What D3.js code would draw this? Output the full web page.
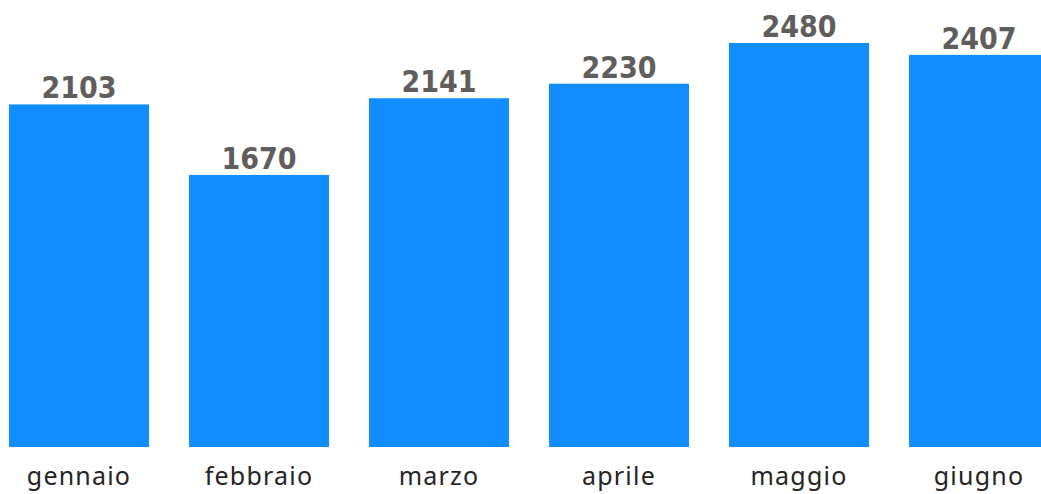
<!DOCTYPE html>
<html>
<head>
<meta charset="utf-8">
<script src="https://cdn.jsdelivr.net/npm/d3@7"></script>
<style>
  body { margin: 0; background: #fff; overflow: hidden; }
  svg { display: block; }
</style>
</head>
<body>
<svg></svg>
<script>
var months = ["gennaio", "febbraio", "marzo", "aprile", "maggio", "giugno"];
var values = [2103, 1670, 2141, 2230, 2480, 2407];

var width = 1041;
var height = 494;
var baseY = 447;

var svg = d3.select("svg")
  .attr("width", width)
  .attr("height", height);

// band: step 180, bar 140
var xScale = d3.scaleBand()
  .domain(months)
  .range([-11, 1069])
  .paddingInner(40 / 180)
  .paddingOuter(20 / 180);

var yScale = d3.scaleLinear()
  .domain([0, 2480])
  .range([baseY, 43]);

var data = months.map(function(m, i){ return {month: m, value: values[i]}; });

svg.selectAll("rect.bar")
  .data(data)
  .enter().append("rect")
  .attr("class", "bar")
  .attr("x", d => xScale(d.month))
  .attr("y", d => yScale(d.value))
  .attr("width", xScale.bandwidth())
  .attr("height", d => baseY - yScale(d.value))
  .attr("fill", "#118DFF");

// value labels
svg.selectAll("text.val")
  .data(data)
  .enter().append("text")
  .attr("class", "val")
  .attr("x", d => xScale(d.month) + xScale.bandwidth() / 2)
  .attr("y", d => yScale(d.value) - 6)
  .attr("text-anchor", "middle")
  .attr("font-family", "DejaVu Sans Condensed, DejaVu Sans")
  .attr("font-stretch", "condensed")
  .attr("font-weight", "bold")
  .attr("font-size", 30)
  .attr("fill", "#605E5C")
  .text(d => d.value);

// x axis (no line, no ticks)
var xAxis = d3.axisBottom(xScale).tickSize(0).tickPadding(0);
var gx = svg.append("g")
  .attr("transform", "translate(0," + baseY + ")")
  .call(xAxis);
gx.select(".domain").remove();
gx.selectAll("text")
  .attr("dy", 0)
  .attr("y", 38)
  .attr("font-family", "Noto Sans")
  .attr("font-size", 25)
  .attr("letter-spacing", 1.2)
  .attr("fill", "#252423");
</script>
</body>
</html>
